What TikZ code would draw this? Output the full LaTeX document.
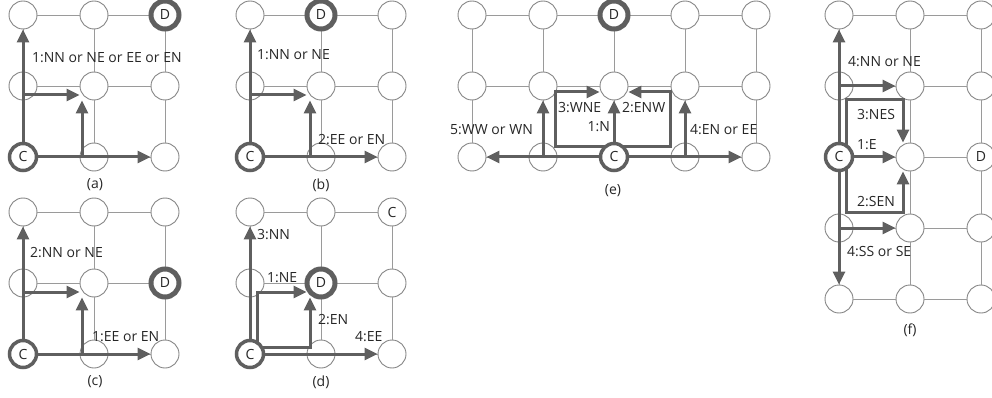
\documentclass[tikz,border=0pt]{standalone}
\usepackage{fontspec}
\setmainfont{Open Sans}
\usetikzlibrary{arrows.meta,calc}
\definecolor{arrc}{HTML}{5F5F5F}
\definecolor{gridc}{HTML}{9A9A9A}
\definecolor{ringc}{HTML}{858585}
\definecolor{txtc}{HTML}{262626}
\newcommand{\mkgrid}[5]{%
  \foreach \i in {0,...,#4}{\foreach \j in {0,...,#5}{%
    \node[gnode] (#1-\i-\j) at ({#2+71*\i},{#3+71*\j}) {};}}
  \foreach \i in {0,...,#4}{\foreach \j in {0,...,#5}{%
    \pgfmathtruncatemacro\ni{\i+1}\pgfmathtruncatemacro\nj{\j+1}%
    \ifnum\i<#4 \draw[gline] (#1-\i-\j) -- (#1-\ni-\j);\fi
    \ifnum\j<#5 \draw[gline] (#1-\i-\j) -- (#1-\i-\nj);\fi}}}
\tikzset{
  gnode/.style={circle, draw=ringc, fill=white, line width=0.9pt, minimum size=28pt, inner sep=0pt},
  cnode/.style={gnode, draw=arrc, line width=3.5pt, minimum size=27pt},
  dnode/.style={gnode, draw=arrc, line width=5pt, minimum size=28pt},
  gline/.style={draw=gridc, line width=0.9pt},
  arr/.style={draw=arrc, line width=3pt, -{Triangle[length=13pt,width=12pt]}},
  lbl/.style={anchor=west, inner sep=0pt, text=txtc},
  captxt/.style={inner sep=0pt, text=txtc},
}
\begin{document}
\begin{tikzpicture}[x=1pt,y=-1pt, font=\fontsize{14}{16}\selectfont, text=txtc]
\useasboundingbox (0,0) rectangle (992,398);
\mkgrid{a}{23}{15}{2}{2}
\mkgrid{b}{250}{15}{2}{2}
\mkgrid{c}{23}{212}{2}{2}
\mkgrid{d}{250}{212}{2}{2}
\mkgrid{e}{472}{15}{4}{2}
\mkgrid{f}{839}{15}{2}{4}
% D nodes (drawn before arrows)
\node[dnode] (aD) at (a-2-0) {D};
\node[dnode] (bD) at (b-1-0) {D};
\node[dnode] (cD) at (c-2-1) {D};
\node[dnode] (dD) at (d-1-1) {D};
\node[dnode] (eD) at (e-2-0) {D};
\node[inner sep=0pt] (fD) at (f-2-2) {D};
\node[inner sep=0pt] (dC2) at (d-2-0) {C};
% (a)
\draw[arr] (a-0-2.center) -- (a-0-0.south);
\draw[arr] ([yshift=-9pt]a-0-1.center) -- ([yshift=-9pt]a-1-1.west);
\draw[arr] ([xshift=-12pt]a-1-2.center) -- ([xshift=-12pt]a-1-1.south);
\draw[arr] (a-0-2.center) -- (a-2-2.west);
% (b)
\draw[arr] (b-0-2.center) -- (b-0-0.south);
\draw[arr] ([yshift=-9pt]b-0-1.center) -- ([yshift=-9pt]b-1-1.west);
\draw[arr] ([xshift=-11pt]b-1-2.center) -- ([xshift=-11pt]b-1-1.south);
\draw[arr] (b-0-2.center) -- (b-2-2.west);
% (c)
\draw[arr] (c-0-2.center) -- (c-0-0.south);
\draw[arr] ([yshift=-9pt]c-0-1.center) -- ([yshift=-9pt]c-1-1.west);
\draw[arr] ([xshift=-12pt]c-1-2.center) -- ([xshift=-12pt]c-1-1.south);
\draw[arr] (c-0-2.center) -- (c-2-2.west);
% (d)
\draw[arr] (d-0-2.center) -- (d-0-0.south);
\draw[arr] ([xshift=7pt]d-0-2.center) |- ([yshift=-9pt]d-1-1.west);
\draw[arr] ([yshift=7pt]d-0-2.center) -| ([xshift=-11pt]d-1-1.south);
\draw[arr] (d-0-2.center) -- (d-2-2.west);
% (e)
\coordinate (eW) at (555,92);
\coordinate (eE) at (670,92);
\draw[arr] ([yshift=10pt]e-2-2.center) -| (eW) -- ([yshift=-6pt]e-2-1.west);
\draw[arr] ([yshift=10pt]e-2-2.center) -| (eE) -- ([yshift=-6pt]e-2-1.east);
\draw[arr] (e-2-2.center) -- (e-2-1.south);
\draw[arr] (e-2-2.center) -- (e-0-2.east);
\draw[arr] (e-1-2.center) -- (e-1-1.south);
\draw[arr] (e-2-2.center) -- (e-4-2.west);
\draw[arr] (e-3-2.center) -- (e-3-1.south);
% (f)
\coordinate (fN) at (903,100);
\coordinate (fS) at (903,212);
\draw[arr] (f-0-2.center) -- (f-0-0.south);
\draw[arr] (f-0-1.center) -- (f-1-1.west);
\draw[arr] ([xshift=7pt]f-0-2.center) |- (fN) -- ([xshift=-7pt]f-1-2.north);
\draw[arr] (f-0-2.center) -- (f-1-2.west);
\draw[arr] ([xshift=7pt]f-0-2.center) |- (fS) -- ([xshift=-7pt]f-1-2.south);
\draw[arr] (f-0-2.center) -- (f-0-4.north);
\draw[arr] (f-0-3.center) -- (f-1-3.west);
% C nodes (drawn after arrows)
\node[cnode] (aC) at (a-0-2) {C};
\node[cnode] (bC) at (b-0-2) {C};
\node[cnode] (cC) at (c-0-2) {C};
\node[cnode] (dC) at (d-0-2) {C};
\node[cnode] (eC) at (e-2-2) {C};
\node[cnode] (fC) at (f-0-2) {C};
% labels
\node[lbl] (la1) at (32,58) {1:NN or NE or EE or EN};
\node[lbl] (lb1) at (257,55) {1:NN or NE};
\node[lbl] (lb2) at (318,140) {2:EE or EN};
\node[lbl] (lc2) at (30,253) {2:NN or NE};
\node[lbl] (lc1) at (92,337) {1:EE or EN};
\node[lbl] (ld3) at (257,235) {3:NN};
\node[lbl] (ld1) at (267,278) {1:NE};
\node[lbl] (ld2) at (318,320) {2:EN};
\node[lbl] (ld4) at (355,337) {4:EE};
\node[lbl, anchor=east] (le1) at (610,127) {1:N};
\node[lbl] (le3) at (558,108) {3:WNE};
\node[lbl] (le2) at (622,108) {2:ENW};
\node[lbl] (le5) at (450,130) {5:WW or WN};
\node[lbl] (le4) at (690,130) {4:EN or EE};
\node[lbl] (lf4a) at (848,62) {4:NN or NE};
\node[lbl] (lf3) at (857,115) {3:NES};
\node[lbl] (lf1) at (857,145) {1:E};
\node[lbl] (lf2) at (857,202) {2:SEN};
\node[lbl] (lf4b) at (847,252) {4:SS or SE};
% captions
\node[captxt] (capa) at (95,185) {(a)};
\node[captxt] (capb) at (321,185) {(b)};
\node[captxt] (capc) at (95,382) {(c)};
\node[captxt] (capd) at (321,382) {(d)};
\node[captxt] (cape) at (613,191) {(e)};
\node[captxt] (capf) at (910,330) {(f)};
\end{tikzpicture}
\end{document}
